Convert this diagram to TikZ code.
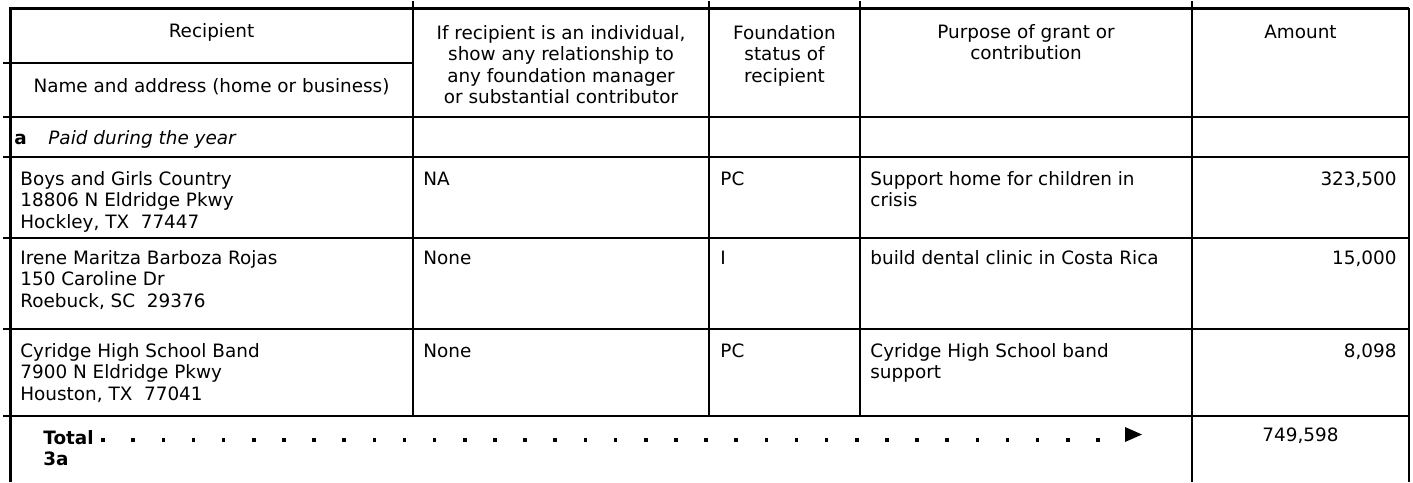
\documentclass[tikz,border=0pt]{standalone}
\usepackage{fontspec}
\setmainfont{DejaVu Sans}
\newcommand{\lnht}{\rule{0pt}{7pt}}
\begin{document}
\begin{tikzpicture}[x=0.5pt,y=-0.5pt,
  txt/.style={inner sep=0pt, font=\fontsize{9.2}{10.75}\selectfont},
  hdr/.style={txt, anchor=north, align=center},
  cell/.style={txt, anchor=north west, align=left},
  amt/.style={txt, anchor=north east, align=right},
  gridline/.style={line width=1pt},
  borderline/.style={line width=1.5pt},
  edgeline/.style={line width=0.6pt},
  dotmark/.style={fill=black, minimum size=1.8pt, inner sep=0pt, draw=none, rectangle},
]
\useasboundingbox (0,0) rectangle (1413,482);
\fill[white] (0,0) rectangle (1413,482);

% coordinates of the grid
\coordinate (tl) at (10,8);
\coordinate (tr) at (1409,8);
\coordinate (bl) at (10,482);
\coordinate (br) at (1409,482);

% horizontal rules
\draw[gridline] (3,63) -- (413,63);
\draw[gridline] (3,117) -- (1409,117);
\draw[gridline] (3,157) -- (1409,157);
\draw[gridline] (3,238) -- (1409,238);
\draw[gridline] (3,329) -- (1409,329);
\draw[gridline] (3,416) -- (1409,416);

% vertical rules
\draw[gridline] (413,1) -- (413,416);
\draw[gridline] (709,1) -- (709,416);
\draw[gridline] (860,1) -- (860,416);
\draw[gridline] (1192,1) -- (1192,482);

% outer border
\draw[edgeline] (tr) -- (br);
\draw[borderline] (bl) -- (tl) -- (tr);

% header
\node[hdr] (h1a) at (211.5,22.7) {\lnht Recipient};
\node[hdr] (h1b) at (211.5,77.7) {\lnht Name and address (home or business)};
\node[hdr] (h2) at (561,24.7) {\lnht If recipient is an individual,\\show any relationship to\\any foundation manager\\or substantial contributor};
\node[hdr] (h3) at (784.5,24.7) {\lnht Foundation\\status of\\recipient};
\node[hdr] (h4) at (1026,23.7) {\lnht Purpose of grant or\\contribution};
\node[hdr] (h5) at (1300.5,23.7) {\lnht Amount};

% row a
\node[cell] (ra) at (14,129.7) {\lnht\bfseries a};
\node[cell] (rat) at (48,129.7) {\lnht\itshape Paid during the year};

% row 1
\node[cell] (r1c1) at (20,170.7) {\lnht Boys and Girls Country\\18806 N Eldridge Pkwy\\Hockley, TX~~77447};
\node[cell] (r1c2) at (423,170.7) {\lnht NA};
\node[cell] (r1c3) at (720,170.7) {\lnht PC};
\node[cell] (r1c4) at (870,170.7) {\lnht Support home for children in\\crisis};
\node[amt] (r1c5) at (1397,170.7) {\lnht 323,500};

% row 2
\node[cell] (r2c1) at (20,249.7) {\lnht Irene Maritza Barboza Rojas\\150 Caroline Dr\\Roebuck, SC~~29376};
\node[cell] (r2c2) at (423,249.7) {\lnht None};
\node[cell] (r2c3) at (720,249.7) {\lnht I};
\node[cell] (r2c4) at (870,249.7) {\lnht build dental clinic in Costa Rica};
\node[amt] (r2c5) at (1397,249.7) {\lnht 15,000};

% row 3
\node[cell] (r3c1) at (20,342.7) {\lnht Cyridge High School Band\\7900 N Eldridge Pkwy\\Houston, TX~~77041};
\node[cell] (r3c2) at (423,342.7) {\lnht None};
\node[cell] (r3c3) at (720,342.7) {\lnht PC};
\node[cell] (r3c4) at (870,342.7) {\lnht Cyridge High School band\\support};
\node[amt] (r3c5) at (1397,342.7) {\lnht 8,098};

% total row
\node[cell] (tot) at (43,429.7) {\lnht\bfseries Total};
\node[cell] (tot3a) at (43,450.7) {\lnht\bfseries 3a};
\foreach \k in {0,...,33} {
  \node[dotmark] (dot\k) at ({103+\k*30.15},440) {};
}
\fill (1125,427) -- (1142,434.5) -- (1125,442) -- cycle;
\node[hdr] (totamt) at (1300.5,426.7) {\lnht 749,598};
\end{tikzpicture}
\end{document}
